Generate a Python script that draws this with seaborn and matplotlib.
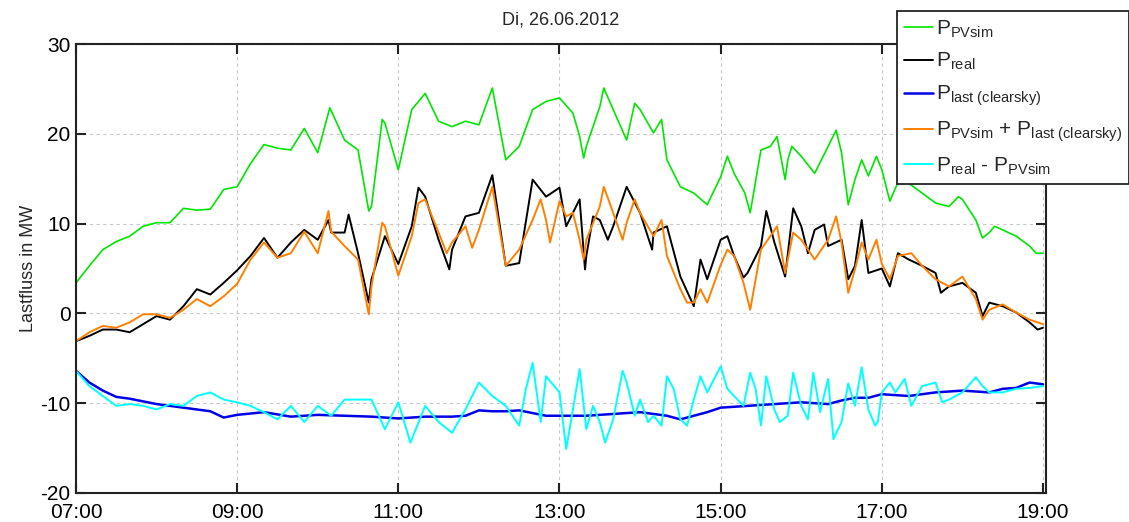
import pandas as pd
import seaborn as sns
import matplotlib
matplotlib.use("Agg")
from matplotlib import pyplot as plt
import matplotlib.dates as mdates

# ---- data (time "HH:MM", value in MW) ----
pv_sim_t = ["07:00", "07:10", "07:20", "07:30", "07:40", "07:50", "08:00", "08:10", "08:20", "08:30",
            "08:40", "08:50", "09:00", "09:10", "09:20", "09:30", "09:40", "09:50", "10:00", "10:09",
            "10:20", "10:30", "10:38", "10:40", "10:48", "10:50", "11:00", "11:10", "11:20", "11:30",
            "11:40", "11:50", "12:00", "12:10", "12:20", "12:30", "12:40", "12:50", "13:00", "13:10",
            "13:15", "13:18", "13:20", "13:30", "13:33", "13:40", "13:50", "13:56", "14:00", "14:10",
            "14:16", "14:20", "14:30", "14:40", "14:50", "15:00", "15:05", "15:10", "15:18", "15:22",
            "15:30", "15:37", "15:42", "15:48", "15:50", "15:53", "16:00", "16:10", "16:20", "16:26",
            "16:30", "16:35", "16:40", "16:45", "16:50", "16:56", "17:00", "17:06", "17:12", "17:20",
            "17:30", "17:40", "17:50", "17:57", "18:00", "18:10", "18:15", "18:20", "18:24", "18:30",
            "18:40", "18:50", "18:55", "19:00"]
pv_sim_v = [3.4, 5.3, 7.1, 8.0, 8.6, 9.7, 10.1, 10.1, 11.7, 11.5,
            11.6, 13.8, 14.1, 16.7, 18.8, 18.4, 18.2, 20.6, 17.9, 22.9,
            19.3, 18.2, 11.4, 11.9, 21.6, 21.2, 16.0, 22.7, 24.5, 21.4,
            20.8, 21.4, 21.0, 25.1, 17.1, 18.6, 22.7, 23.6, 24.0, 22.3,
            19.7, 17.3, 18.6, 23.0, 25.1, 22.7, 19.3, 23.4, 22.7, 20.1,
            21.6, 17.1, 14.1, 13.4, 12.1, 15.2, 17.5, 15.6, 13.4, 11.2,
            18.2, 18.6, 19.7, 14.9, 17.1, 18.6, 17.5, 15.6, 18.6, 20.4,
            17.9, 12.1, 14.9, 17.1, 15.3, 17.5, 16.0, 12.5, 14.6, 14.5,
            13.4, 12.3, 11.9, 13.0, 12.7, 10.4, 8.4, 9.0, 9.7, 9.3,
            8.6, 7.5, 6.7, 6.7]

real_t = ["07:00", "07:10", "07:20", "07:30", "07:40", "07:50", "08:00", "08:10", "08:20", "08:30",
          "08:40", "08:50", "09:00", "09:10", "09:20", "09:30", "09:40", "09:50", "10:00", "10:08",
          "10:10", "10:20", "10:23", "10:30", "10:38", "10:40", "10:50", "11:00", "11:10", "11:15",
          "11:20", "11:30", "11:38", "11:40", "11:50", "12:00", "12:10", "12:20", "12:30", "12:40",
          "12:50", "13:00", "13:05", "13:10", "13:15", "13:19", "13:20", "13:25", "13:30", "13:36",
          "13:40", "13:50", "14:00", "14:09", "14:10", "14:20", "14:30", "14:40", "14:45", "14:50",
          "15:00", "15:05", "15:10", "15:17", "15:20", "15:30", "15:34", "15:40", "15:48", "15:54",
          "16:00", "16:05", "16:10", "16:17", "16:20", "16:30", "16:35", "16:40", "16:45", "16:50",
          "17:00", "17:06", "17:12", "17:20", "17:30", "17:40", "17:44", "17:50", "18:00", "18:10",
          "18:15", "18:20", "18:30", "18:40", "18:50", "18:56", "19:00"]
real_v = [-3.1, -2.5, -1.8, -1.8, -2.1, -1.2, -0.3, -0.7, 0.8, 2.7,
          2.1, 3.4, 4.8, 6.4, 8.4, 6.2, 7.9, 9.3, 8.2, 10.4,
          9.0, 9.0, 11.0, 6.7, 1.2, 3.8, 8.6, 5.5, 9.7, 14.0,
          13.0, 8.2, 4.9, 7.1, 10.8, 11.2, 15.4, 5.3, 5.6, 14.9,
          13.0, 14.0, 9.7, 11.2, 12.7, 4.9, 6.4, 10.8, 10.4, 8.2,
          9.7, 14.1, 11.2, 7.1, 9.0, 9.7, 4.1, 0.8, 6.0, 3.8,
          8.2, 8.6, 6.4, 4.0, 4.5, 7.5, 11.4, 7.9, 4.1, 11.7,
          9.7, 6.7, 9.3, 9.9, 7.5, 8.2, 3.8, 5.3, 10.4, 4.5,
          5.0, 3.0, 6.7, 6.0, 5.3, 4.5, 2.3, 3.0, 3.4, 2.3,
          -0.3, 1.2, 0.8, 0.1, -1.0, -1.8, -1.6]

last_t = ["07:00", "07:10", "07:20", "07:30", "07:40", "07:50", "08:00", "08:10", "08:20", "08:30",
          "08:40", "08:50", "09:00", "09:20", "09:40", "10:00", "10:20", "10:40", "11:00", "11:20",
          "11:40", "11:50", "12:00", "12:10", "12:20", "12:30", "12:40", "12:50", "13:00", "13:20",
          "13:40", "14:00", "14:20", "14:30", "14:40", "14:50", "15:00", "15:20", "15:40", "16:00",
          "16:20", "16:30", "16:40", "16:50", "17:00", "17:20", "17:40", "18:00", "18:20", "18:30",
          "18:40", "18:50", "19:00"]
last_v = [-6.4, -7.7, -8.6, -9.3, -9.5, -9.8, -10.1, -10.3, -10.5, -10.7,
          -10.9, -11.6, -11.3, -11.0, -11.5, -11.3, -11.4, -11.5, -11.7, -11.5,
          -11.5, -11.4, -10.8, -10.9, -10.9, -10.8, -11.1, -11.4, -11.4, -11.4,
          -11.2, -11.0, -11.4, -11.8, -11.4, -11.0, -10.5, -10.3, -10.1, -9.9,
          -10.1, -9.7, -9.4, -9.4, -9.0, -9.2, -8.8, -8.6, -8.8, -8.4,
          -8.3, -7.7, -7.9]

sum_t = ["07:00", "07:10", "07:20", "07:30", "07:40", "07:50", "08:00", "08:10", "08:20", "08:30",
         "08:40", "08:50", "09:00", "09:10", "09:20", "09:30", "09:40", "09:50", "10:00", "10:08",
         "10:10", "10:20", "10:30", "10:38", "10:40", "10:48", "10:50", "11:00", "11:10", "11:15",
         "11:20", "11:30", "11:36", "11:40", "11:50", "11:55", "12:00", "12:10", "12:20", "12:30",
         "12:40", "12:46", "12:50", "12:53", "13:00", "13:05", "13:10", "13:15", "13:18", "13:20",
         "13:30", "13:33", "13:40", "13:47", "13:50", "13:56", "14:00", "14:10", "14:16", "14:20",
         "14:30", "14:35", "14:40", "14:45", "14:50", "15:00", "15:05", "15:10", "15:17", "15:22",
         "15:30", "15:37", "15:42", "15:48", "15:54", "16:00", "16:10", "16:20", "16:26", "16:30",
         "16:35", "16:40", "16:45", "16:50", "16:56", "17:00", "17:06", "17:12", "17:22", "17:30",
         "17:40", "17:50", "18:00", "18:10", "18:15", "18:20", "18:30", "18:40", "18:50", "19:00"]
sum_v = [-3.1, -2.1, -1.4, -1.6, -1.0, -0.1, -0.1, -0.5, 0.4, 1.6,
         0.8, 1.9, 3.3, 6.0, 7.9, 6.2, 6.7, 9.1, 6.7, 11.4,
         9.1, 7.5, 6.0, -0.1, 3.0, 10.1, 9.7, 4.2, 8.6, 12.3,
         12.7, 9.0, 6.7, 7.9, 9.7, 7.3, 9.3, 14.1, 5.3, 7.1,
         10.4, 12.7, 10.4, 7.9, 12.5, 10.8, 11.2, 8.2, 6.0, 8.2,
         11.9, 14.1, 11.2, 8.2, 10.1, 12.7, 11.2, 8.6, 10.4, 6.4,
         2.7, 1.2, 1.2, 2.7, 1.2, 5.4, 7.1, 6.4, 3.4, 0.4,
         7.1, 8.6, 9.7, 4.5, 9.0, 8.2, 6.0, 8.2, 10.8, 7.9,
         2.3, 4.9, 7.9, 6.0, 8.2, 5.5, 3.8, 6.4, 6.7, 5.3,
         3.8, 3.0, 4.1, 1.6, -0.7, 0.4, 1.0, 0.1, -0.7, -1.2]

diff_t = ["07:00", "07:10", "07:20", "07:30", "07:40", "07:50", "08:00", "08:10", "08:20", "08:30",
          "08:40", "08:50", "09:00", "09:10", "09:20", "09:30", "09:40", "09:50", "10:00", "10:10",
          "10:20", "10:30", "10:40", "10:50", "11:00", "11:09", "11:20", "11:30", "11:40", "11:50",
          "12:00", "12:10", "12:20", "12:30", "12:35", "12:40", "12:46", "12:50", "13:00", "13:05",
          "13:10", "13:15", "13:20", "13:25", "13:30", "13:34", "13:40", "13:47", "13:50", "13:56",
          "14:00", "14:06", "14:10", "14:16", "14:20", "14:25", "14:30", "14:35", "14:40", "14:45",
          "14:50", "15:00", "15:05", "15:10", "15:17", "15:22", "15:26", "15:30", "15:34", "15:40",
          "15:44", "15:50", "15:54", "16:00", "16:05", "16:09", "16:14", "16:20", "16:24", "16:30",
          "16:35", "16:40", "16:45", "16:50", "16:55", "16:57", "17:00", "17:06", "17:10", "17:17",
          "17:22", "17:30", "17:40", "17:45", "17:50", "18:00", "18:10", "18:15", "18:20", "18:30",
          "18:40", "18:50", "19:00"]
diff_v = [-6.4, -8.1, -9.2, -10.3, -10.1, -10.3, -10.7, -10.1, -10.3, -9.2,
          -8.8, -9.6, -9.9, -10.3, -11.0, -11.8, -10.3, -12.1, -10.3, -11.4,
          -9.6, -9.6, -9.6, -12.9, -9.9, -14.4, -10.3, -12.1, -13.3, -10.7,
          -7.7, -9.2, -10.3, -12.5, -8.4, -5.5, -12.1, -7.0, -8.8, -15.1,
          -10.7, -6.2, -12.9, -10.3, -12.1, -14.4, -11.8, -6.4, -7.7, -11.4,
          -9.6, -12.1, -11.4, -12.5, -7.0, -8.4, -11.8, -12.5, -9.6, -7.0,
          -8.8, -5.9, -8.4, -9.2, -10.3, -6.6, -8.4, -12.5, -7.0, -10.7,
          -12.1, -11.4, -6.6, -10.3, -11.8, -6.6, -11.0, -7.3, -14.0, -12.1,
          -7.8, -10.3, -6.0, -10.7, -12.5, -12.1, -8.8, -7.7, -8.8, -7.3,
          -10.3, -8.1, -7.7, -9.9, -9.6, -8.8, -7.1, -8.1, -8.8, -8.8,
          -8.4, -8.3, -8.1]

day = "2012-06-26 "


def to_time(times):
    return pd.to_datetime([day + t for t in times])


sns.set_theme(style="ticks")
plt.rcParams['font.family'] = ['Liberation Sans', 'DejaVu Sans']
plt.rcParams['mathtext.fontset'] = 'custom'
plt.rcParams['mathtext.rm'] = 'Liberation Sans'
plt.rcParams['mathtext.it'] = 'Liberation Sans'
plt.rcParams['axes.unicode_minus'] = False

fig = plt.figure(figsize=(11.29, 5.22), dpi=100)
ax = fig.add_axes([0.0673, 0.0556, 0.9262 - 0.0673, 0.9157 - 0.0556])

series = [
    (pv_sim_t, pv_sim_v, '#00e600', r'$\mathrm{P}_{\mathrm{PVsim}}$', 1.2),
    (real_t, real_v, 'black', r'$\mathrm{P}_{\mathrm{real}}$', 1.4),
    (last_t, last_v, '#0000e6', r'$\mathrm{P}_{\mathrm{last\ (clearsky)}}$', 1.8),
    (sum_t, sum_v, '#ff8000', r'$\mathrm{P}_{\mathrm{PVsim}}$ + $\mathrm{P}_{\mathrm{last\ (clearsky)}}$', 1.4),
    (diff_t, diff_v, '#00ffff', r'$\mathrm{P}_{\mathrm{real}}$ - $\mathrm{P}_{\mathrm{PVsim}}$', 1.4),
]
for t, v, c, lab, lw in series:
    sns.lineplot(x=to_time(t), y=v, color=c, linewidth=lw, label=lab, ax=ax)

ax.set_xlim(pd.Timestamp(day + "07:00"), pd.Timestamp(day + "19:02"))
ax.set_ylim(-20, 30)
ax.set_yticks([-20, -10, 0, 10, 20, 30])
ax.xaxis.set_major_locator(mdates.HourLocator(byhour=range(7, 20, 2)))
ax.xaxis.set_major_formatter(mdates.DateFormatter('%H:%M'))

ax.grid(True, linestyle=(0, (3, 3)), color='#c8c8c8', linewidth=0.8)
for s in ax.spines.values():
    s.set_linewidth(1.5)
    s.set_color('#222222')
ax.tick_params(direction='in', length=7, width=1.5, top=True, right=True,
               labelsize=15, pad=4, colors='#222222')
ax.tick_params(axis='x', pad=7)
ax.tick_params(labelcolor='black')

ax.set_title('Di, 26.06.2012', fontsize=13, pad=14)
ax.set_ylabel('Lastfluss in MW', fontsize=13, labelpad=2)
ax.set_xlabel('')

leg = ax.legend(loc='upper left', bbox_to_anchor=(897 / 1129, 1 - 11 / 522),
                bbox_transform=fig.transFigure, borderaxespad=0, fontsize=15,
                frameon=True, fancybox=False, framealpha=1, edgecolor='#222222',
                handlelength=1.4, handletextpad=0.12, labelspacing=0.55,
                borderpad=0.35)
leg.get_frame().set_linewidth(1.3)

plt.savefig('out.png', dpi=100)
plt.close()
